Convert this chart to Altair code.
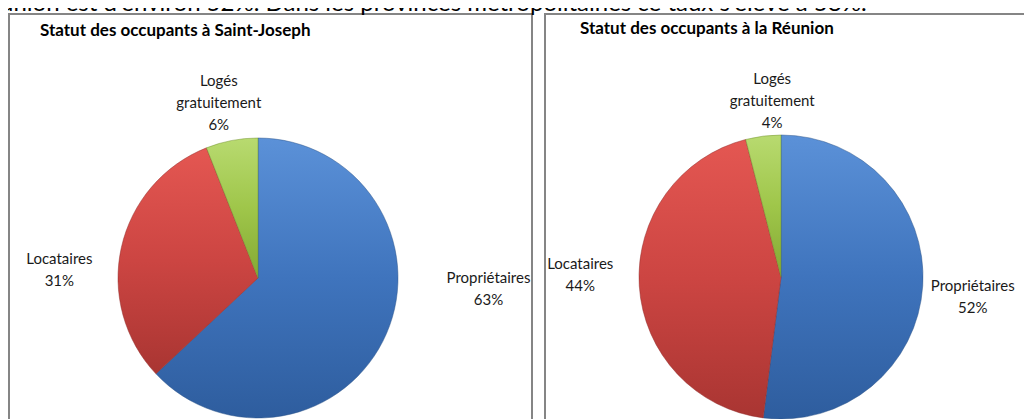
import altair as alt
import pandas as pd

# ---- data -------------------------------------------------------------
categories = ["Propriétaires", "Locataires", "Logés gratuitement"]
label_names = ["Propriétaires", "Locataires", "Logés\ngratuitement"]
sj_values = [63, 31, 6]      # Saint-Joseph (%)
re_values = [52, 44, 4]      # La Réunion (%)
titles = ["Statut des occupants à Saint-Joseph", "Statut des occupants à la Réunion"]
top_text = "union est d'environ 52%. Dans les provinces métropolitaines ce taux s'élève à 58%."

rows = []
for pie, vals in (("sj", sj_values), ("re", re_values)):
    for i, (c, ln, v) in enumerate(zip(categories, label_names, vals)):
        rows.append({"pie": pie, "cat": c, "order": i, "value": v,
                     "label": f"{ln}\n{v}%"})
df = pd.DataFrame(rows)

# ---- styles -----------------------------------------------------------
FONT = "Lato"
GRAD = {
    "Propriétaires": ["#5b91d8", "#3f74bd", "#2e5d9e"],
    "Locataires": ["#e45752", "#cc4542", "#a93532"],
    "Logés gratuitement": ["#b8da70", "#9fc64a", "#84a934"],
}
EDGE = {"Propriétaires": "#2a5287", "Locataires": "#8f2b28", "Logés gratuitement": "#6f8f2c"}

PIES = {
    "sj": dict(cx=250, cy=270, r=140,
               off={"Propriétaires": (102, -56), "Locataires": (-62, 12), "Logés gratuitement": (-13, -59)}),
    "re": dict(cx=773, cy=269, r=142,
               off={"Propriétaires": (50, 0), "Locataires": (-59, -22), "Logés gratuitement": (9, -57)}),
}

base = (
    alt.Chart(df)
    .transform_window(end="sum(value)", frame=[None, 0],
                      sort=[alt.SortField("order")], groupby=["pie"])
    .transform_calculate(start="datum.end - datum.value",
                         mid="datum.end - datum.value / 2")
)
theta_scale = alt.Scale(domain=[0, 100], range=[0, 6.283185307179586])

layers = []
for pie, p in PIES.items():
    for c in categories:
        sub = base.transform_filter((alt.datum.pie == pie) & (alt.datum.cat == c))
        g = GRAD[c]
        arc = sub.mark_arc(
            outerRadius=p["r"],
            fill=alt.Gradient(gradient="linear", x1=0, x2=0, y1=0, y2=1,
                              stops=[alt.GradientStop(color=g[0], offset=0),
                                     alt.GradientStop(color=g[1], offset=0.5),
                                     alt.GradientStop(color=g[2], offset=1)]),
            stroke=EDGE[c], strokeWidth=0.8, strokeOpacity=0.6,
        ).encode(
            theta=alt.Theta("start:Q", scale=theta_scale),
            theta2="end:Q",
            x=alt.value(p["cx"]), y=alt.value(p["cy"]),
        )
        dx, dy = p["off"][c]
        txt = sub.mark_text(
            radius=p["r"], dx=dx, dy=dy, align="center", baseline="middle",
            lineBreak="\n", font=FONT, fontSize=15, lineHeight=22, color="#1a1a1a",
        ).encode(
            theta=alt.Theta("mid:Q", scale=theta_scale),
            x=alt.value(p["cx"]), y=alt.value(p["cy"]),
            text="label:N",
        )
        layers += [arc, txt]

one = pd.DataFrame({"t": [top_text]})
top = alt.Chart(one).mark_text(align="left", baseline="alphabetic", font=FONT,
                              fontSize=24, color="#000").encode(
    x=alt.value(-8), y=alt.value(3), text="t:N")

tdf = pd.DataFrame({"t": titles, "k": ["sj", "re"]})
title_sj = alt.Chart(tdf).transform_filter(alt.datum.k == "sj").mark_text(
    align="left", baseline="alphabetic", font=FONT, fontSize=17, fontWeight="bold",
    color="#000").encode(x=alt.value(32), y=alt.value(28), text="t:N")
title_re = alt.Chart(tdf).transform_filter(alt.datum.k == "re").mark_text(
    align="left", baseline="alphabetic", font=FONT, fontSize=17, fontWeight="bold",
    color="#000").encode(x=alt.value(572), y=alt.value(26), text="t:N")

BORDER = dict(color="#858585", strokeWidth=2)
rules = [
    alt.Chart(one).mark_rule(**BORDER).encode(x=alt.value(1), y=alt.value(6), y2=alt.value(420)),
    alt.Chart(one).mark_rule(**BORDER).encode(x=alt.value(0), x2=alt.value(525), y=alt.value(6)),
    alt.Chart(one).mark_rule(**BORDER).encode(x=alt.value(524), y=alt.value(6), y2=alt.value(420)),
    alt.Chart(one).mark_rule(**BORDER).encode(x=alt.value(537), y=alt.value(6), y2=alt.value(420)),
    alt.Chart(one).mark_rule(**BORDER).encode(x=alt.value(536), x2=alt.value(1030), y=alt.value(6)),
]

chart = alt.layer(*rules, top, title_sj, title_re, *layers).properties(
    width=1016, height=411,
    autosize=alt.AutoSizeParams(type="none"),
    padding=0,
).configure_view(stroke=None)

chart.save("out.html", embed_options={"renderer": "svg", "actions": False})
